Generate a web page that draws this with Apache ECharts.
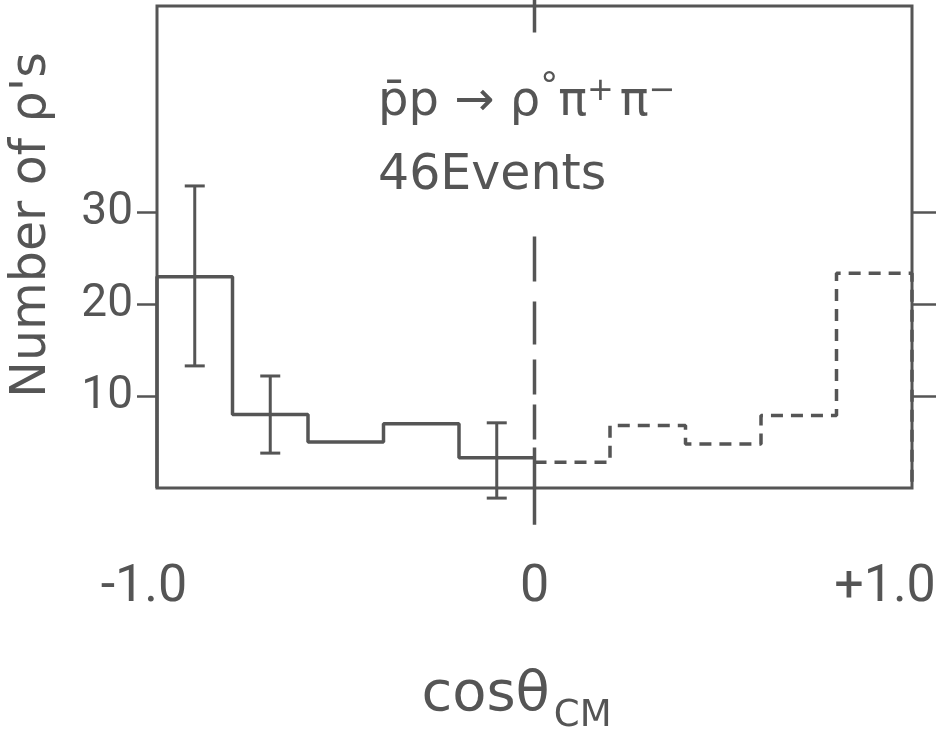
<!DOCTYPE html>
<html>
<head>
<meta charset="utf-8">
<script src="https://cdn.jsdelivr.net/npm/echarts@6/dist/echarts.min.js"></script>
<style>
  html, body { margin: 0; background: #fff; overflow: hidden; }
  #chart { width: 940px; height: 737px; }
</style>
</head>
<body>
<div id="chart"></div>
<script>
// histogram: solid half (cos < 0) and dashed half (cos > 0)
const leftEdges = [-1.0, -0.8, -0.6, -0.4, -0.2, 0];
const leftCounts = [23, 8, 5, 7, 3.3];
const rightEdges = [0, 0.2, 0.4, 0.6, 0.8, 1.0];
const rightCounts = [2.8, 6.8, 4.8, 7.9, 23.4];

// error bars
const errX = [-0.9, -0.7, -0.1];
const errLow = [13.3, 3.8, -1.1];
const errHigh = [32.9, 12.2, 7.1];

// ticks
const yTicks = [10, 20, 30];
const xTicks = [-1, 0, 1];
const xTickLabels = ['-1.0', '0', '+1.0'];

// dashed guide line at cos = 0 (runs a bit past the frame)
const zeroLine = [53.2, -4];

const ink = '#555';
const font = '"DejaVu Sans"';

function steps(edges, counts, fromZero, toZero) {
  const pts = [];
  if (fromZero) pts.push([edges[0], 0]);
  counts.forEach((c, i) => pts.push([edges[i], c]));
  pts.push([edges[edges.length - 1], counts[counts.length - 1]]);
  if (toZero) pts.push([edges[edges.length - 1], 0]);
  return pts;
}

const chart = echarts.init(document.getElementById('chart'));

const option = {
  animation: false,
  backgroundColor: '#fff',
  grid: {
    left: 157, right: 28, top: 6, bottom: 249,
    outerBoundsMode: 'none',
    containLabel: false,
    show: true, borderColor: ink, borderWidth: 3
  },
  xAxis: {
    type: 'value',
    min: -1, max: 1, interval: 1,
    axisLine: { show: false, onZero: false },
    axisTick: { show: false },
    splitLine: { show: false },
    axisLabel: {
      margin: 74,
      showMinLabel: true, showMaxLabel: true,
      fontFamily: 'Roboto', fontSize: 52, color: ink,
      // the end labels sit a little left of their tick in the scan
      formatter: v => ['{l|', '{c|', '{r|'][xTicks.indexOf(v)] + xTickLabels[xTicks.indexOf(v)] + '}',
      rich: {
        l: { fontFamily: 'Roboto', fontSize: 52, color: ink, padding: [0, 26, 0, 0] },
        c: { fontFamily: 'Roboto', fontSize: 52, color: ink },
        r: { fontFamily: 'Roboto', fontSize: 52, color: ink, padding: [0, 54, 0, 0] }
      }
    },
    name: '{a|cosθ}{b|CM}',
    nameLocation: 'middle',
    nameGap: 168,
    nameTextStyle: {
      color: ink,
      padding: [0, 36, 0, 0],
      rich: {
        a: { fontFamily: font, fontSize: 56, color: ink },
        b: { fontFamily: font, fontSize: 37, color: ink, padding: [42, 0, 0, 4] }
      }
    }
  },
  yAxis: [
    {
      type: 'value', min: 0, max: 52.5, position: 'left',
      axisLine: { show: false, onZero: false },
      splitLine: { show: false },
      axisTick: { show: true, length: 20, customValues: yTicks, lineStyle: { color: ink, width: 2.5 } },
      axisLabel: { customValues: yTicks, margin: 24, fontFamily: 'Roboto', fontSize: 46, color: ink },
      name: "Number of ρ's",
      nameLocation: 'middle',
      nameRotate: 90,
      nameGap: 100,
      nameTextStyle: { fontFamily: font, fontSize: 49, color: ink, padding: [0, 0, 0, 44] }
    },
    {
      type: 'value', min: 0, max: 52.5, position: 'right',
      axisLine: { show: false, onZero: false },
      splitLine: { show: false },
      axisTick: { show: true, length: 24, customValues: yTicks, lineStyle: { color: ink, width: 2.5 } },
      axisLabel: { show: false }
    }
  ],
  graphic: [
    {
      type: 'text', left: 378, top: 70,
      style: {
        text: '{m|p̄p → ρ}{d|°}{m|π}{s|+}{m|π}{s|−}',
        fill: ink,
        rich: {
          m: { fontFamily: font, fontSize: 48, fill: ink },
          d: { fontFamily: font, fontSize: 36, fill: ink, padding: [0, 0, 30, 0] },
          s: { fontFamily: font, fontSize: 32, fill: ink, padding: [0, 6, 22, 0] }
        }
      }
    },
    { type: 'text', left: 378, top: 152, style: { text: '46Events', font: '49px ' + font, fill: ink } }
  ],
  series: [
    {
      type: 'line', step: 'end', symbol: 'none',
      data: steps(leftEdges, leftCounts, true, false),
      lineStyle: { color: ink, width: 3.5 }
    },
    {
      type: 'line', step: 'end', symbol: 'none', clip: false,
      data: steps(rightEdges, rightCounts, false, true),
      lineStyle: { color: ink, width: 3.5, type: [12, 8] }
    },
    {
      type: 'line', symbol: 'none', clip: false,
      data: zeroLine.map(v => [0, v]),
      lineStyle: { color: ink, width: 3.5, type: [33, 204, 45, 20, 43, 15, 35, 10, 35, 8, 80, 1000] }
    },
    {
      type: 'custom', clip: false,
      data: errX.map((x, i) => [x, errLow[i], errHigh[i]]),
      renderItem: (params, api) => {
        const top = api.coord([api.value(0), api.value(2)]);
        const bot = api.coord([api.value(0), api.value(1)]);
        const w = 10;
        const style = { stroke: ink, lineWidth: 3 };
        return {
          type: 'group',
          children: [
            { type: 'line', shape: { x1: top[0], y1: top[1], x2: bot[0], y2: bot[1] }, style },
            { type: 'line', shape: { x1: top[0] - w, y1: top[1], x2: top[0] + w, y2: top[1] }, style },
            { type: 'line', shape: { x1: bot[0] - w, y1: bot[1], x2: bot[0] + w, y2: bot[1] }, style }
          ]
        };
      }
    }
  ]
};

chart.setOption(option);
</script>
</body>
</html>
